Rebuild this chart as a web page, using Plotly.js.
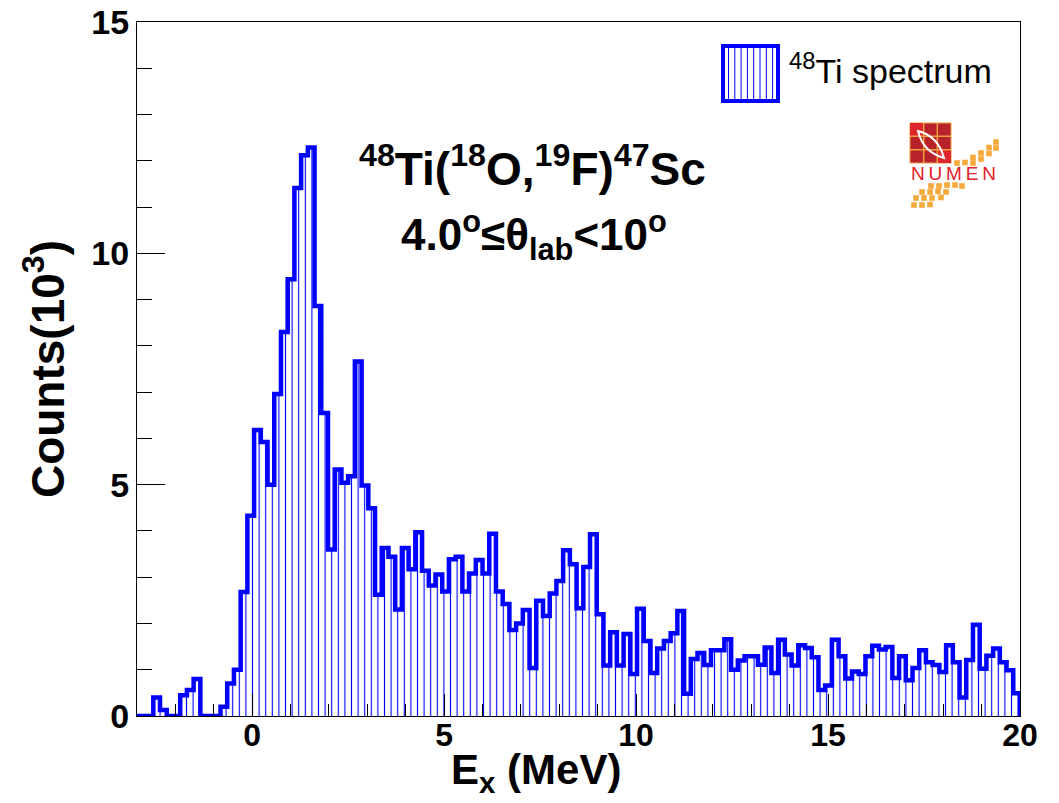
<!DOCTYPE html>
<html>
<head>
<meta charset="utf-8">
<script src="https://cdn.plot.ly/plotly-3.0.1.min.js"></script>
<style>html,body{margin:0;padding:0;background:#fff}#chart{width:1059px;height:803px}</style>
</head>
<body>
<div id="chart"></div>
<script>
// ---- data (counts in units of 10^3 per 0.175 MeV bin) ----
const binStart = -3.1;
const binWidth = 0.175;
const counts = [
  0, 0, 0, 0.4, 0.13, 0, 0, 0.45, 0.56, 0.8,
  0, 0, 0, 0.2, 0.7, 1.0, 2.68, 4.33, 6.18, 5.92,
  5.0, 6.96, 8.3, 9.44, 11.41, 12.12, 12.29, 8.86, 6.55, 3.6,
  5.33, 5.04, 5.18, 7.66, 4.98, 4.49, 2.62, 3.63, 3.44, 2.3,
  3.63, 3.17, 3.97, 3.14, 2.82, 3.06, 2.69, 3.39, 3.44, 2.69,
  3.08, 3.37, 3.08, 3.94, 2.69, 2.42, 1.86, 2.0, 2.29, 1.04,
  2.49, 2.16, 2.65, 2.92, 3.58, 3.28, 2.33, 3.22, 3.93, 2.2,
  1.09, 1.81, 1.09, 1.77, 0.91, 2.32, 1.62, 0.93, 1.46, 1.62,
  1.79, 2.27, 0.48, 1.23, 1.36, 1.1, 1.42, 1.42, 1.66, 1.0,
  1.2, 1.29, 1.29, 1.11, 1.48, 0.93, 1.65, 1.33, 1.09, 1.53,
  1.47, 1.27, 0.56, 0.66, 1.65, 1.29, 0.81, 0.96, 0.91, 1.29,
  1.52, 1.44, 1.49, 0.82, 1.29, 0.77, 1.04, 1.42, 1.16, 1.1,
  0.95, 1.53, 1.16, 0.4, 1.21, 1.97, 1.02, 1.3, 1.46, 1.16,
  0.99, 0.49
];
const xTickVals = [0, 5, 10, 15, 20];
const yTickVals = [0, 5, 10, 15];
const seriesName = '<sup>48</sup>Ti spectrum';
const reactionLabel = '<sup>48</sup>Ti(<sup>18</sup>O,<sup>19</sup>F)<sup>47</sup>Sc';
const angleLabel = '4.0<sup>o</sup>\u2264\u03b8<sub>lab</sub>&lt;10<sup>o</sup>';
const xTitle = 'E<sub>x</sub> (MeV)';
const yTitle = 'Counts(10<sup>3</sup>)';
const logoText = 'N\u2009U\u2009M\u2009E\u2009N';

// ---- build step outline from bin edges ----
const xs = counts.map((_, i) => +(binStart + i * binWidth).toFixed(4));
xs.push(+(binStart + counts.length * binWidth).toFixed(4));
const ys = counts.concat([0]);

const FONT = 'Liberation Sans, Arial, Helvetica, sans-serif';
const BLUE = '#0000ff';

// pixel -> paper helpers for decorations
const L = 137, R = 39, T = 22, B = 87, W = 1059, H = 803;
const PW = W - L - R, PH = H - T - B;
const PX = x => (x - L) / PW;
const PY = y => (H - B - y) / PH;

const shapes = [];
// legend swatch
shapes.push({type: 'rect', xref: 'paper', yref: 'paper',
  x0: PX(723), x1: PX(778), y0: PY(101), y1: PY(46),
  line: {color: BLUE, width: 4}, fillcolor: 'white', layer: 'above'});
for (let k = 0; k < 8; k++) {
  const x = 728.5 + k * 6.3;
  shapes.push({type: 'line', xref: 'paper', yref: 'paper',
    x0: PX(x), x1: PX(x), y0: PY(99), y1: PY(48),
    line: {color: BLUE, width: 1}});
}
// NUMEN logo: red grid square
shapes.push({type: 'rect', xref: 'paper', yref: 'paper',
  x0: PX(910), x1: PX(951), y0: PY(163), y1: PY(123),
  line: {color: '#f0a040', width: 1}, fillcolor: '#b8232b'});
[[910, 123, 924, 136], [937, 150, 951, 163]].forEach(c => shapes.push({type: 'rect', xref: 'paper', yref: 'paper',
  x0: PX(c[0]), x1: PX(c[2]), y0: PY(c[3]), y1: PY(c[1]), line: {width: 0}, fillcolor: '#e0262d'}));
[923.7, 937.3].forEach(x => shapes.push({type: 'line', xref: 'paper', yref: 'paper',
  x0: PX(x), x1: PX(x), y0: PY(163), y1: PY(123), line: {color: '#f0a040', width: 1.5}}));
[136.3, 149.7].forEach(y => shapes.push({type: 'line', xref: 'paper', yref: 'paper',
  x0: PX(910), x1: PX(951), y0: PY(y), y1: PY(y), line: {color: '#f0a040', width: 1.5}}));
// white ring
const p = (x, y) => PX(x).toFixed(5) + ',' + PY(y).toFixed(5);
shapes.push({type: 'path', xref: 'paper', yref: 'paper',
  path: 'M' + p(918, 131) + ' Q' + p(938, 136) + ' ' + p(944, 158) + ' Q' + p(923, 152) + ' ' + p(918, 131) + ' Z',
  line: {color: 'white', width: 2}});
// orange dots
const dots = [
  [996, 142], [989, 147.5], [996, 148], [981, 153], [989, 153.5], [973, 157.5], [981, 159],
  [957, 163], [965, 162.5], [973, 163],
  [931, 186], [939, 186], [947, 185], [955, 185], [962, 186],
  [922, 192], [930, 192], [938, 191.5], [946, 192],
  [916, 198], [924, 198], [932, 198], [941, 197.5],
  [914, 205], [922, 205], [930, 204.5]
];
dots.forEach(d => shapes.push({type: 'rect', xref: 'paper', yref: 'paper',
  x0: PX(d[0] - 2.8), x1: PX(d[0] + 2.8), y0: PY(d[1] + 2.8), y1: PY(d[1] - 2.8),
  line: {width: 0}, fillcolor: '#f7a93c'}));

const trace = {
  type: 'scatter', mode: 'lines', name: seriesName,
  x: xs, y: ys,
  line: {shape: 'hv', color: BLUE, width: 4.5},
  fill: 'tozeroy', fillcolor: 'white',
  fillpattern: {shape: '|', size: 6.6, solidity: 0.17, fgcolor: BLUE, bgcolor: 'white'},
  hoverinfo: 'x+y', showlegend: false
};

const layout = {
  width: W, height: H,
  margin: {l: L, r: R, t: T, b: B, pad: 0},
  paper_bgcolor: 'white', plot_bgcolor: 'white',
  showlegend: false,
  xaxis: {
    range: [-3, 20], tickvals: xTickVals, ticktext: xTickVals.map(String),
    ticks: 'inside', ticklen: 22, tickwidth: 1, tickcolor: 'black',
    minor: {dtick: 1, tick0: 0, ticks: 'inside', ticklen: 12, tickwidth: 1, tickcolor: 'black'},
    showline: true, linecolor: 'black', linewidth: 1, mirror: true,
    showgrid: false, zeroline: false, ticklabelstandoff: -9,
    tickfont: {family: FONT, size: 32, color: 'black', weight: 'bold'}
  },
  yaxis: {
    range: [0, 15], tickvals: yTickVals, ticktext: yTickVals.map(String),
    ticks: 'inside', ticklen: 28, tickwidth: 1, tickcolor: 'black',
    minor: {dtick: 1, tick0: 0, ticks: 'inside', ticklen: 15, tickwidth: 1, tickcolor: 'black'},
    showline: true, linecolor: 'black', linewidth: 1, mirror: true,
    showgrid: false, zeroline: false,
    tickfont: {family: FONT, size: 34, color: 'black', weight: 'bold'},
    title: {text: yTitle, font: {family: FONT, size: 46, color: 'black', weight: 'bold'}, standoff: 12}
  },
  shapes: shapes,
  annotations: [
    {xref: 'paper', yref: 'paper', x: PX(536), y: PY(772), xanchor: 'center', yanchor: 'middle',
     text: xTitle, showarrow: false, font: {family: FONT, size: 42, color: 'black', weight: 'bold'}},
    {xref: 'paper', yref: 'paper', x: PX(532), y: PY(166), xanchor: 'center', yanchor: 'middle',
     text: reactionLabel, showarrow: false, font: {family: FONT, size: 46, color: 'black', weight: 'bold'}},
    {xref: 'paper', yref: 'paper', x: PX(534), y: PY(236), xanchor: 'center', yanchor: 'middle',
     text: angleLabel, showarrow: false, font: {family: FONT, size: 44, color: 'black', weight: 'bold'}},
    {xref: 'paper', yref: 'paper', x: PX(787), y: PY(68), xanchor: 'left', yanchor: 'middle',
     text: seriesName, showarrow: false, font: {family: FONT, size: 34, color: 'black'}},
    {xref: 'paper', yref: 'paper', x: PX(953), y: PY(174), xanchor: 'center', yanchor: 'middle',
     text: logoText, showarrow: false, font: {family: FONT, size: 19, color: '#e3202a'}}
  ]
};

Plotly.newPlot('chart', [trace], layout, {displayModeBar: false, staticPlot: true});
</script>
</body>
</html>
